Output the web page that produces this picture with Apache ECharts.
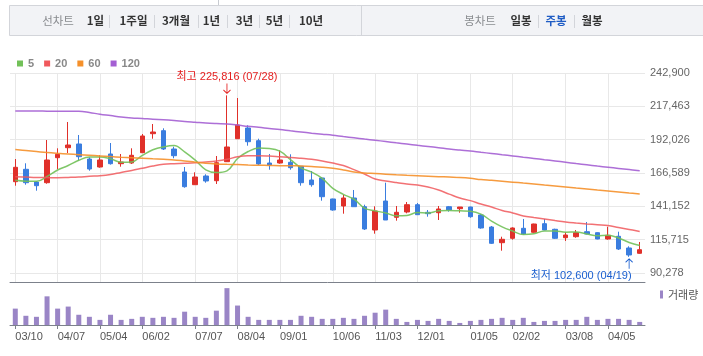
<!DOCTYPE html>
<html><head><meta charset="utf-8">
<script src="https://cdn.jsdelivr.net/npm/echarts@6/dist/echarts.min.js"></script>
<style>html,body{margin:0;padding:0;background:#fff}#c{width:703px;height:356px}</style>
</head><body><div id="c"></div>
<script>
const categories = ['03/10','03/17','03/24','03/31','04/07','04/14','04/21','04/28','05/04','05/12','05/19','05/26','06/02','06/09','06/16','06/23','06/30','07/07','07/14','07/21','07/28','08/04','08/11','08/18','08/25','09/01','09/08','09/15','09/22','09/29','10/06','10/13','10/20','10/27','11/03','11/10','11/17','11/24','12/01','12/08','12/15','12/22','12/29','01/05','01/12','01/19','01/26','02/02','02/09','02/16','02/23','03/02','03/08','03/15','03/22','03/29','04/05','04/12','04/19','04/26'];
const tickLabels = ['03/10','04/07','05/04','06/02','07/07','08/04','09/01','10/06','11/03','12/01','01/05','02/02','03/08','04/05'];
const priceTicks = [90278,115715,141152,166589,192026,217463,242900];

const opens  = [159950,169410,159720,159190,178270,185900,188720,177270,171170,181090,173690,174220,182080,196580,198870,184900,167350,157660,164300,160710,175210,192760,200930,191240,174220,174220,174760,171700,161250,162780,146750,141410,147510,140870,123090,145220,132780,136830,142400,136600,136290,140870,139350,140640,134540,125380,113400,116760,124390,121340,127900,123630,117220,117980,121800,121030,116230,118290,109360,105310];
const closes = [170940,159190,156900,176510,180860,187950,179030,169640,176510,173690,174980,180100,194830,197880,184900,179790,156140,163540,160490,174450,186430,203220,190470,173460,172700,176510,170640,159190,157660,148510,138360,147510,140870,123860,137590,130720,136600,142400,134770,135530,139120,138360,140640,133240,124620,112940,116000,124620,120040,127670,123090,116760,119280,121030,120040,116230,119050,108590,104020,108060];
const lows   = [156900,157660,153080,158430,169410,181850,175980,168350,170640,173000,171400,173500,181800,192760,184140,177810,155370,157500,159190,158200,175000,192500,187420,172700,169110,173690,169110,156900,156140,145450,137820,135530,140870,123090,120270,130720,130190,135830,134770,133240,130720,137060,136290,132480,124090,112410,107300,115690,119280,121100,122900,116230,114700,117220,119810,116000,115690,107830,102600,105000];
const highs  = [177270,173990,160490,191770,185440,205510,195590,178570,180100,189480,181090,185440,196350,203980,200700,186660,171170,167120,165600,179560,225816,223820,202990,192760,181090,183910,180860,171700,168120,163500,147000,149800,153620,142400,141170,159190,141410,144460,143700,138360,141410,141410,140640,140900,135300,126150,117980,125150,131490,127900,131490,124090,121340,123090,129200,121300,125610,121800,110650,113940];

const ma5   = [161000,160300,160200,164000,168900,172300,176300,178800,178800,177400,174800,175000,180000,184300,186500,187500,182700,176400,169000,166900,168200,177600,183000,185600,185300,183300,176800,170500,167300,162500,154900,150300,146600,139800,137700,136100,133900,134200,136400,136000,137700,138000,137700,137400,135200,129900,125500,122300,119600,120200,122300,122400,121400,121600,120000,118700,119100,117000,113600,111200];
const ma20  = [163800,163500,163200,163100,163000,163200,163500,164100,164500,165400,167000,168500,170200,171900,173200,173700,174000,174500,175000,175700,177000,179000,179800,179800,179500,179000,178500,177800,177000,175800,174200,172300,169200,165800,162000,160500,159300,158200,157400,155900,153600,150500,147500,145500,142900,140600,138000,136100,133800,132600,131500,130300,129200,128400,127700,127100,126500,125000,123500,122000];
const ma60  = [184500,183800,183000,182200,181600,181100,180600,180100,179600,179100,178600,178200,177800,177400,177100,176500,175800,174800,174000,173500,173200,173000,172700,172500,172400,172200,172200,171900,171500,171000,170200,168900,167400,166600,166200,165700,165200,164800,164500,164200,163800,163500,163200,162600,161600,161000,160300,159600,158900,158200,157400,156700,155900,155100,154400,153600,152900,152100,151300,150600];
const ma120 = [213900,213900,213900,213800,213750,213700,213700,212800,211400,210400,209300,208600,208200,207600,207300,206700,205900,205300,204700,204300,204000,203200,202200,201500,200600,199800,198800,197900,197000,196200,195400,194400,193500,192500,191600,190600,189600,188700,187700,186800,185900,184900,184100,183400,182400,181500,180500,179600,178600,177700,176700,175800,174800,173800,172900,171900,171000,170100,169200,168300];
const volumes = [480000,270000,240000,840000,480000,540000,300000,240000,150000,300000,150000,180000,240000,210000,240000,210000,390000,240000,210000,420000,1080000,570000,240000,150000,150000,150000,150000,270000,240000,180000,180000,210000,180000,270000,360000,450000,180000,90000,150000,120000,180000,120000,60000,120000,150000,180000,210000,150000,210000,90000,120000,120000,150000,150000,240000,150000,180000,180000,150000,90000];

const highIdx = 20, lowIdx = 58;

const RED = '#e0302a', BLUE = '#3a7ddf';
const GRIDC = '#e8e8e8';
const FONT = '"Liberation Sans", Arial, "Noto Sans CJK KR", sans-serif';
const KFONT = '"Noto Sans CJK KR", "Liberation Sans", sans-serif';
const showTick = (idx, val) => tickLabels.indexOf(val) >= 0 || tickLabels.indexOf(categories[idx]) >= 0;

const chart = echarts.init(document.getElementById('c'), null, {renderer: 'canvas'});

function headerText(x, text, color, bold) {
  return {type: 'text', x: x, y: 21, style: {text: text, fill: color, font: (bold ? 'bold ' : '') + '11.5px ' + KFONT, align: 'center', verticalAlign: 'middle'}, silent: true};
}
function sep(x) {
  return {type: 'line', shape: {x1: x + 0.5, y1: 15, x2: x + 0.5, y2: 28}, style: {stroke: '#d3d5da', lineWidth: 1}, silent: true};
}

const option = {
  animation: false,
  textStyle: {fontFamily: FONT},
  graphic: [
    {type: 'line', shape: {x1: 218.5, y1: 0, x2: 218.5, y2: 5}, style: {stroke: '#c8cbd1', lineWidth: 1}},
    {type: 'rect', shape: {x: 9.5, y: 5.5, width: 700, height: 30}, style: {fill: '#f2f3f6', stroke: '#d3d5da', lineWidth: 1}, silent: true},
    {type: 'line', shape: {x1: 361.5, y1: 5.5, x2: 361.5, y2: 35.5}, style: {stroke: '#d3d5da', lineWidth: 1}},
    headerText(58, '선차트', '#8a8c90', false),
    headerText(95.5, '1일', '#333', true), sep(109),
    headerText(133.5, '1주일', '#333', true), sep(154),
    headerText(176, '3개월', '#333', true), sep(198),
    headerText(211.5, '1년', '#333', true), sep(227),
    headerText(244.5, '3년', '#333', true), sep(259),
    headerText(274.5, '5년', '#333', true), sep(289),
    headerText(311, '10년', '#333', true),
    headerText(480, '봉차트', '#8a8c90', false),
    headerText(521, '일봉', '#333', true), sep(538),
    headerText(556, '주봉', '#1f5cc4', true), sep(574),
    headerText(592, '월봉', '#333', true)
  ],
  legend: [
    {data: ['5', '20', '60', '120'], left: 17, top: 58, padding: 0, icon: 'rect', itemWidth: 6, itemHeight: 6, itemGap: 10,
     textStyle: {color: '#888', fontSize: 11, fontWeight: 'bold', fontFamily: FONT}, selectedMode: false},
    {data: ['거래량'], left: 660, top: 289, padding: 0, icon: 'rect', itemWidth: 3, itemHeight: 8, itemGap: 4,
     textStyle: {color: '#555', fontSize: 11, fontFamily: KFONT}, selectedMode: false}
  ],
  grid: [
    {left: 10, right: 58, top: 73, height: 209},
    {left: 10, right: 58, top: 282, height: 43}
  ],
  xAxis: [
    {type: 'category', gridIndex: 0, data: categories, boundaryGap: true,
     axisLine: {show: true, lineStyle: {color: '#7c818b', width: 1}},
     axisTick: {show: false}, axisLabel: {show: false},
     splitLine: {show: false}},
    {type: 'category', gridIndex: 1, data: categories, boundaryGap: true,
     axisLine: {show: true, lineStyle: {color: '#7c818b', width: 1}},
     axisTick: {show: true, interval: showTick, alignWithLabel: true, length: 4, lineStyle: {color: '#7c818b'}},
     axisLabel: {show: true, interval: showTick, align: 'left', color: '#555', fontSize: 11, margin: 6, fontFamily: FONT},
     splitLine: {show: false}}
  ],
  yAxis: [
    {type: 'value', gridIndex: 0, position: 'right', min: 83410, max: 242900, scale: true,
     axisLine: {show: false}, axisTick: {show: false, customValues: priceTicks},
     axisLabel: {show: true, customValues: priceTicks, color: '#666', fontSize: 11, margin: 5, fontFamily: FONT,
       formatter: v => Math.round(v).toLocaleString('en-US')},
     splitLine: {show: false}},
    {type: 'value', gridIndex: 1, min: 0, max: 1260000, show: false, splitLine: {show: false}}
  ],
  series: [
    {name: 'gridlines', type: 'line', xAxisIndex: 0, yAxisIndex: 0, data: [], z: 1, silent: true, symbol: 'none',
     markLine: {silent: true, z: 1, symbol: 'none', animation: false, label: {show: false}, precision: 6,
       lineStyle: {color: GRIDC, width: 1, type: 'solid', opacity: 1}, emphasis: {disabled: true},
       data: priceTicks.map(v => ({yAxis: v, lineStyle: {color: GRIDC, width: 1, type: 'solid'}}))
         .concat(tickLabels.map(c => ({xAxis: c, lineStyle: {color: GRIDC, width: 1, type: 'solid'}})))}},
    {name: 'price', type: 'candlestick', xAxisIndex: 0, yAxisIndex: 0, barWidth: 5, z: 3,
     data: categories.map((c, i) => [opens[i], closes[i], lows[i], highs[i]]),
     itemStyle: {color: RED, color0: BLUE, borderColor: RED, borderColor0: BLUE, borderWidth: 1},
     markPoint: {
       silent: true, animation: false, symbolKeepAspect: false,
       data: [
         {coord: [categories[highIdx], highs[highIdx]], symbol: 'path://M4,0 L4,12 M0.5,8 L4,12 L7.5,8', symbolSize: [7, 10], symbolOffset: [0, -7],
          itemStyle: {color: 'rgba(0,0,0,0)', borderColor: '#e41e1e', borderWidth: 1},
          label: {show: true, position: 'top', distance: 0, color: '#e41e1e', fontSize: 11, fontFamily: FONT,
            formatter: '최고 ' + highs[highIdx].toLocaleString('en-US') + ' (' + categories[highIdx] + ')'}},
         {coord: [categories[lowIdx], lows[lowIdx]], symbol: 'path://M4,12 L4,0 M0.5,4 L4,0 L7.5,4', symbolSize: [7, 10], symbolOffset: [0, 7],
          itemStyle: {color: 'rgba(0,0,0,0)', borderColor: '#1a5fd0', borderWidth: 1},
          label: {show: true, position: 'bottom', distance: 1, offset: [-48, 0], color: '#1a5fd0', fontSize: 11, fontFamily: FONT,
            formatter: '최저 ' + lows[lowIdx].toLocaleString('en-US') + ' (' + categories[lowIdx] + ')'}}
       ]
     }},
    {name: '5', type: 'line', data: ma5, smooth: 0.4, symbol: 'none', z: 4, color: '#72c159', lineStyle: {color: '#72c159', width: 1.5, opacity: 0.9}, itemStyle: {color: '#72c159'}},
    {name: '20', type: 'line', data: ma20, smooth: 0.4, symbol: 'none', z: 4, color: '#f0585c', lineStyle: {color: '#f0585c', width: 1.5, opacity: 0.85}, itemStyle: {color: '#f0585c'}},
    {name: '60', type: 'line', data: ma60, smooth: 0.4, symbol: 'none', z: 4, color: '#f5902a', lineStyle: {color: '#f5902a', width: 1.5, opacity: 0.9}, itemStyle: {color: '#f5902a'}},
    {name: '120', type: 'line', data: ma120, smooth: 0.4, symbol: 'none', z: 4, color: '#a45fd3', lineStyle: {color: '#a45fd3', width: 1.5, opacity: 0.9}, itemStyle: {color: '#a45fd3'}},
    {name: '거래량', type: 'bar', xAxisIndex: 1, yAxisIndex: 1, data: volumes, barWidth: 5, color: '#9a85c6', itemStyle: {color: '#9a85c6'}}
  ]
};
chart.setOption(option);
</script>
</body></html>
